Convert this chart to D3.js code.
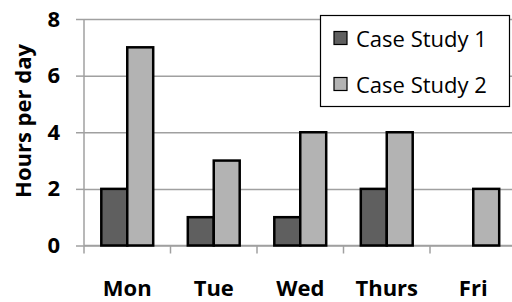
<!DOCTYPE html>
<html><head><meta charset="utf-8">
<script src="https://cdn.jsdelivr.net/npm/d3@7"></script>
<style>body{margin:0;background:#fff}svg{display:block}text{font-family:"Open Sans",sans-serif}</style>
</head><body><svg id="c" width="512" height="302"></svg>
<script>
const days = ["Mon","Tue","Wed","Thurs","Fri"];
const seriesNames = ["Case Study 1","Case Study 2"];
const study1 = [2,1,1,2,0];
const study2 = [7,3,4,4,2];
const yTicks = [0,2,4,6,8];
const colors = ["#5f5f5f","#b3b3b3"];

const svg = d3.select("#c");
const x0 = 84, x1 = 516.5, yTop = 19, yBot = 245.5;
const x = d3.scaleBand().domain(days).range([x0,x1]).paddingInner(0.4).paddingOuter(0.2);
const xs = d3.scaleBand().domain(seriesNames).range([0,x.bandwidth()]);
const y = d3.scaleLinear().domain([0,8]).range([yBot,yTop]);

// gridlines
const grid = svg.append("g").attr("transform",`translate(${x0},0)`)
  .call(d3.axisLeft(y).tickValues(yTicks).tickSize(-(512-x0)).tickFormat(""));
grid.select(".domain").remove();
grid.selectAll("line").attr("stroke","#a0a0a0").attr("stroke-width",1.5);

// y axis
const ya = svg.append("g").attr("transform",`translate(${x0},0)`)
  .call(d3.axisLeft(y).tickValues(yTicks).tickSize(8).tickPadding(16));
ya.select(".domain").attr("stroke","#a0a0a0").attr("stroke-width",1.5).attr("d",`M0,${yTop}V${yBot}`);
ya.selectAll("line").attr("stroke","#a0a0a0").attr("stroke-width",1.5);
ya.selectAll("text").attr("font-size",22).attr("font-weight","bold").attr("fill","#000").attr("font-family","Open Sans");

// x axis
const xa = svg.append("g").attr("transform",`translate(0,${yBot})`)
  .call(d3.axisBottom(x).tickSize(0).tickPadding(0));
xa.select(".domain").attr("stroke","#a0a0a0").attr("stroke-width",1.5).attr("d",`M${x0},0H512`);
xa.selectAll(".tick text").attr("font-size",22).attr("font-weight","bold").attr("fill","#000").attr("dy",0).attr("y",50).attr("font-family","Open Sans");
xa.selectAll(".tick line").remove();
const step = x.step();
xa.selectAll(".sep").data(days).join("line").attr("class","sep")
  .attr("x1",(d,i)=>x0+i*step).attr("x2",(d,i)=>x0+i*step).attr("y1",0).attr("y2",8)
  .attr("stroke","#a0a0a0").attr("stroke-width",1.5);

// bars
const data = days.map((d,i)=>({day:d, vals:[study1[i],study2[i]]}));
const g = svg.append("g");
data.forEach(d=>{
  d.vals.forEach((v,k)=>{
    if(v<=0) return;
    g.append("rect").attr("x",x(d.day)+xs(seriesNames[k])).attr("y",y(v))
      .attr("width",xs.bandwidth()).attr("height",y(0)-y(v))
      .attr("fill",colors[k]).attr("stroke","#000").attr("stroke-width",2.5);
  });
});

// y title
svg.append("text").attr("transform","translate(22,121) rotate(-90)")
  .attr("text-anchor","middle").attr("dominant-baseline","central")
  .attr("font-size",22).attr("font-weight","bold").text("Hours per day");

// legend
const lg = svg.append("g");
lg.append("rect").attr("x",320.5).attr("y",15.5).attr("width",189).attr("height",91)
  .attr("fill","#fff").attr("stroke","#000").attr("stroke-width",1.2);
seriesNames.forEach((n,k)=>{
  const cy = 38 + k*46;
  lg.append("rect").attr("x",334).attr("y",cy-6.5).attr("width",13).attr("height",13)
    .attr("fill",colors[k]).attr("stroke","#000").attr("stroke-width",1.2);
  lg.append("text").attr("x",356).attr("y",cy).attr("dominant-baseline","central")
    .attr("font-size",22).text(n);
});
</script></body></html>
